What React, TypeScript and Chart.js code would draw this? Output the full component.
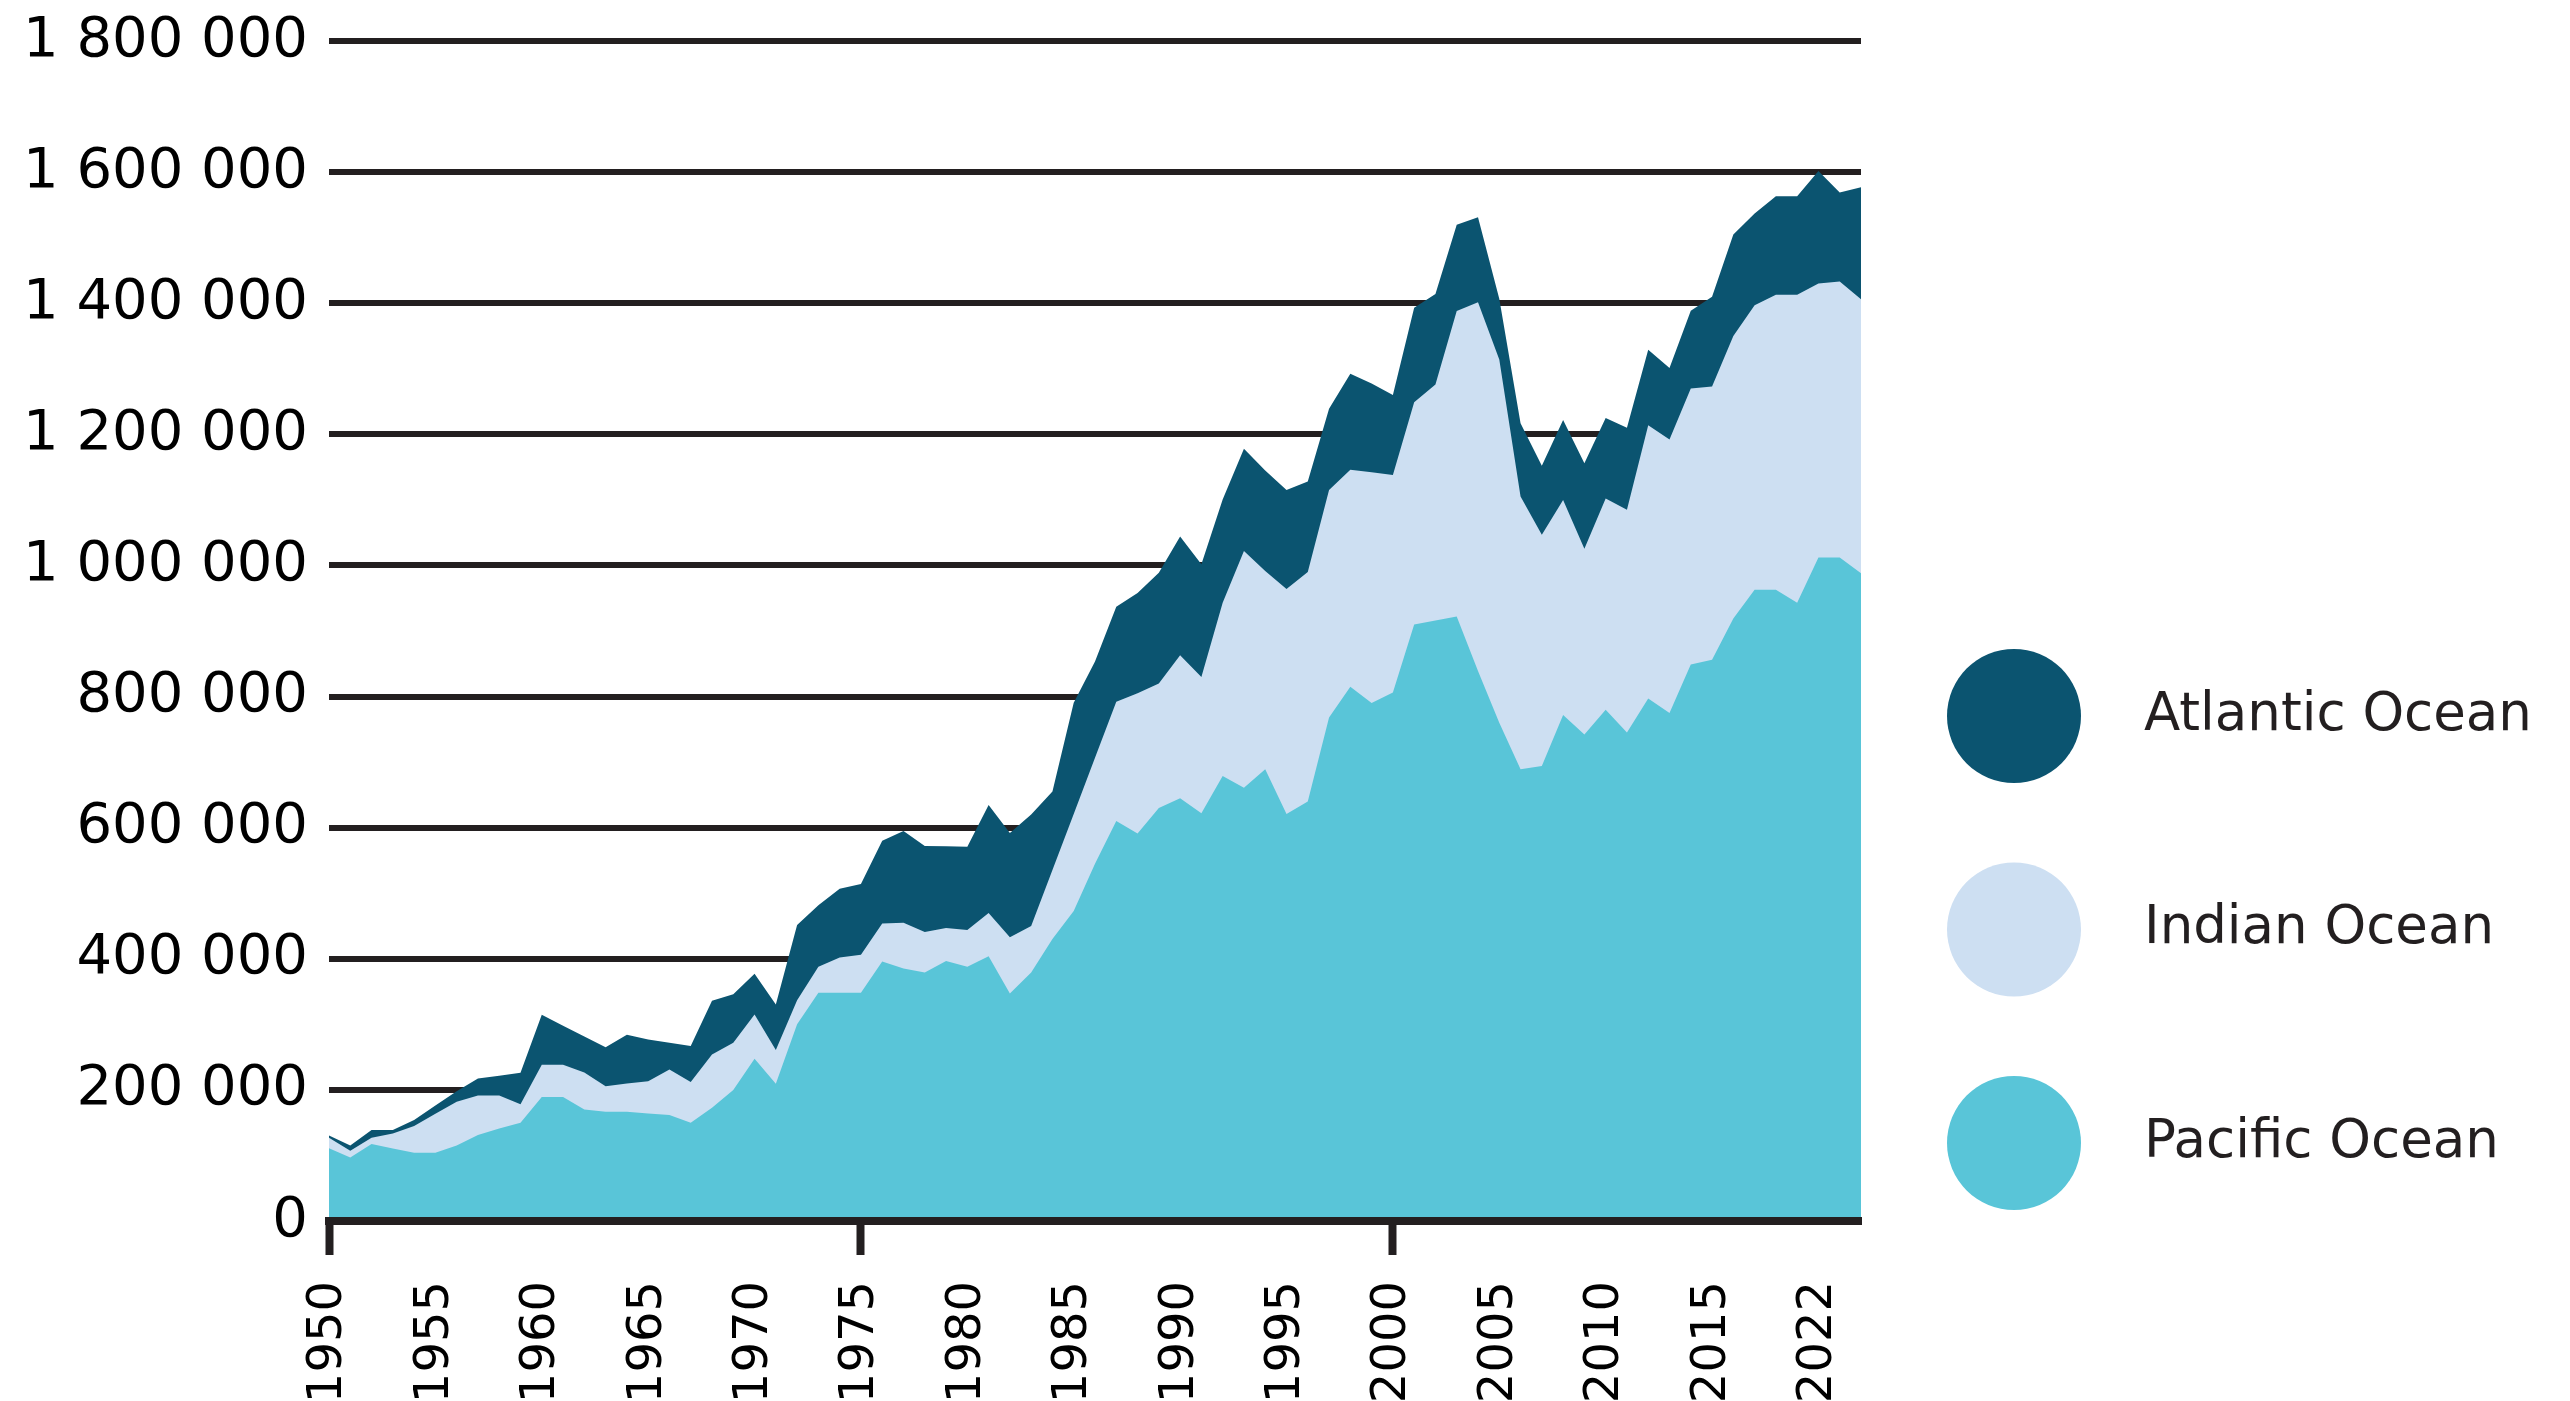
import React, { useEffect, useRef } from "react";
import { Chart, registerables } from "chart.js";

Chart.register(...registerables);

const years: string[] = Array.from({ length: 73 }, (_, i) => String(1950 + i));

const tickLabels = ["1950", "1955", "1960", "1965", "1970", "1975", "1980", "1985", "1990", "1995", "2000", "2005", "2010", "2015", "2022"];

const pacific = [
  110800, 97000, 117500, 110600, 104000, 104000, 115000, 131000, 141000, 150000,
  189000, 189000, 170000, 166700, 166700, 164000, 161600, 150000, 172800, 200000,
  247600, 209400, 300000, 348300, 348300, 348300, 396000, 385000, 379000, 396500,
  388000, 404000, 347000, 379000, 430000, 473000, 545000, 610000, 591000, 630000,
  645000, 622000, 679000, 661000, 689000, 621000, 640000, 768000, 815000, 790000,
  806000, 910000, 916000, 922000, 839000, 760000, 689000, 694000, 772000, 742000,
  780000, 745000, 797000, 775000, 849000, 856000, 919000, 963000, 963000, 943000,
  1012000, 1012000, 988000,
];

const indian = [
  16200, 10000, 9500, 23000, 41000, 59600, 67000, 60600, 50600, 28000,
  49400, 49400, 56500, 38800, 42900, 49000, 69400, 62000, 81200, 72000,
  67400, 51400, 36800, 39500, 53700, 57700, 58000, 70000, 62000, 50500,
  55800, 66000, 86000, 71000, 105500, 148000, 161500, 182000, 214000, 190000,
  218000, 208000, 264000, 361000, 302700, 343000, 350000, 347000, 331000, 352000,
  332000, 339000, 360000, 466000, 562600, 554000, 416000, 353000, 328000, 283500,
  322000, 340000, 417000, 417000, 421000, 417000, 431000, 434000, 450000, 470000,
  418000, 421000, 418000,
];

const atlantic = [
  3600, 8000, 11700, 5100, 9000, 12400, 16000, 25900, 30100, 48000,
  76300, 59600, 55100, 59500, 74400, 64000, 41000, 55000, 82000, 73700,
  62000, 69600, 114700, 93800, 105000, 108000, 126000, 139800, 131000, 124500,
  127200, 164500, 159000, 170000, 119500, 169700, 146900, 145000, 152800, 169000,
  181000, 171700, 157600, 156000, 153300, 151000, 138000, 124000, 146500, 135600,
  122000, 144000, 138000, 131700, 129400, 93000, 112000, 105000, 121700, 130500,
  123000, 125000, 115000, 109000, 118600, 137000, 155000, 140000, 150000, 150000,
  171600, 136000, 171000,
];

const seriesNames = ["Atlantic Ocean", "Indian Ocean", "Pacific Ocean"];
const seriesColors = ["#0b5470", "#cddff2", "#59c5d8"];

const INK = "#231f20";
const FONT = "'DejaVu Sans', sans-serif";

const formatThousands = (v: number) =>
  String(v).replace(/\B(?=(\d{3})+(?!\d))/g, " ");

const bigLegend = {
  id: "bigLegend",
  afterDraw(chart: any) {
    const { ctx, chartArea } = chart;
    const cx = chartArea.right + 153;
    const top = chartArea.top + 675;
    const step = 213.5;
    ctx.save();
    seriesNames.forEach((name, i) => {
      const cy = top + i * step;
      ctx.beginPath();
      ctx.arc(cx, cy, 67, 0, Math.PI * 2);
      ctx.fillStyle = seriesColors[i];
      ctx.fill();
      ctx.fillStyle = INK;
      ctx.font = `53px ${FONT}`;
      ctx.textAlign = "left";
      ctx.textBaseline = "middle";
      ctx.fillText(name, cx + 130, cy);
    });
    ctx.restore();
  },
};

export default function App() {
  const ref = useRef<HTMLCanvasElement>(null);

  useEffect(() => {
    if (!ref.current) return;
    const chart = new Chart(ref.current, {
      type: "line",
      data: {
        labels: years,
        datasets: [
          {
            label: "Pacific Ocean",
            data: pacific,
            backgroundColor: seriesColors[2],
            borderColor: seriesColors[2],
            borderWidth: 0,
            pointRadius: 0,
            fill: "origin",
            tension: 0,
          },
          {
            label: "Indian Ocean",
            data: indian,
            backgroundColor: seriesColors[1],
            borderColor: seriesColors[1],
            borderWidth: 0,
            pointRadius: 0,
            fill: "origin",
            tension: 0,
          },
          {
            label: "Atlantic Ocean",
            data: atlantic,
            backgroundColor: seriesColors[0],
            borderColor: seriesColors[0],
            borderWidth: 0,
            pointRadius: 0,
            fill: "origin",
            tension: 0,
          },
        ],
      },
      options: {
        responsive: false,
        animation: false,
        devicePixelRatio: 1,
        layout: { padding: { top: 41, right: 709, left: 0, bottom: 0 } },
        plugins: {
          legend: { display: false },
          tooltip: { enabled: false },
        },
        elements: { line: { borderWidth: 0 } },
        scales: {
          x: {
            type: "category",
            offset: false,
            grid: {
              drawOnChartArea: false,
              drawTicks: true,
              tickLength: 34,
              tickWidth: 8,
              tickColor: (c: any) => (c.index % 5 === 0 ? INK : "rgba(0,0,0,0)"),
            },
            border: { display: true, color: INK, width: 8, z: 1 },
            ticks: {
              autoSkip: false,
              minRotation: 90,
              maxRotation: 90,
              padding: 26,
              color: "#000",
              font: { family: FONT, size: 48 },
              callback: (_v: any, i: number) => (i % 5 === 0 ? tickLabels[i / 5] : null),
            },
            afterFit: (s: any) => {
              s.height = 180;
            },
          },
          y: {
            stacked: true,
            min: 0,
            max: 1800000,
            grid: {
              color: INK,
              lineWidth: 6,
              drawTicks: false,
            },
            border: { display: false },
            ticks: {
              stepSize: 200000,
              padding: 21,
              color: "#000",
              font: { family: FONT, size: 56 },
              callback: (v: any) => formatThousands(Number(v)),
            },
            afterFit: (s: any) => {
              s.width = 329;
              s.paddingTop = 0;
              s.paddingBottom = 0;
            },
          },
        },
      },
      plugins: [bigLegend],
    } as any);
    return () => chart.destroy();
  }, []);

  return (
    <div
      style={{
        position: "fixed",
        left: 0,
        top: 0,
        width: 2570,
        height: 1401,
        background: "#ffffff",
      }}
    >
      <canvas ref={ref} width={2570} height={1401} style={{ width: 2570, height: 1401 }} />
    </div>
  );
}
